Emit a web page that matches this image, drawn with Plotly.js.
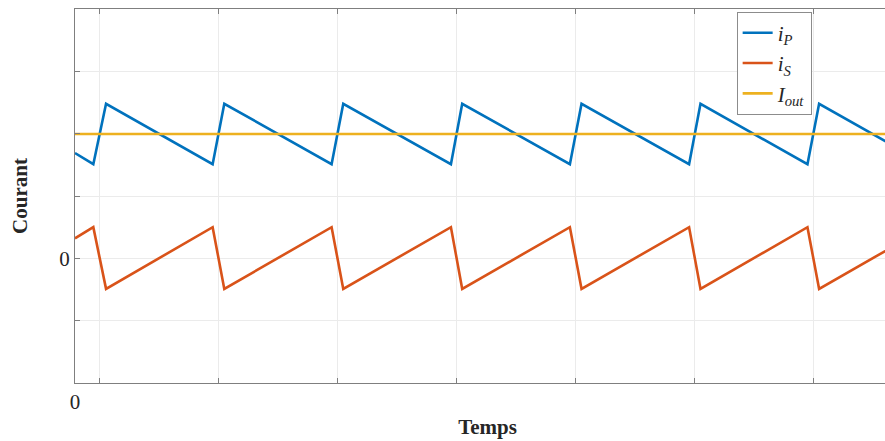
<!DOCTYPE html>
<html>
<head>
<meta charset="utf-8">
<script src="https://cdn.plot.ly/plotly-3.0.1.min.js"></script>
<style>
  html, body { margin: 0; padding: 0; overflow: hidden; background: #ffffff; width: 885px; height: 441px; }
  #chart { width: 900px; height: 441px; }
</style>
</head>
<body>
<div id="chart"></div>
<script>
// Vertex times (in switching periods)
const tVertices = [0, 0.154, 0.261, 1.157, 1.255, 2.157, 2.255, 3.160, 3.255, 4.160, 4.258, 5.162, 5.258, 6.157, 6.255, 6.85];
// Primary current i_P
const iP = [1.69, 1.51, 2.48, 1.51, 2.48, 1.51, 2.48, 1.51, 2.48, 1.51, 2.48, 1.51, 2.48, 1.51, 2.48, 1.84];
// Secondary current i_S
const iS = [0.32, 0.50, -0.49, 0.50, -0.49, 0.50, -0.49, 0.50, -0.49, 0.50, -0.49, 0.50, -0.49, 0.50, -0.49, 0.16];
// Output current I_out
const tOut = [0, 6.85];
const iOut = [1.995, 1.995];

// Tick positions / labels
const xLabelVals = [0];
const xLabelText = ["0"];
const xMinorVals = [0.21, 1.21, 2.21, 3.21, 4.21, 5.21, 6.21];
const yLabelVals = [0];
const yLabelText = ["0"];
const yMinorVals = [-2, -1, 1, 2, 3, 4];

const seriesNames = ["<i>i</i><sub><i>P</i></sub>", "<i>i</i><sub><i>S</i></sub>", "<i>I</i><sub><i>out</i></sub>"];
const seriesColors = ["#0072BD", "#D95319", "#EDB120"];

const traces = [
  { x: tVertices, y: iP, mode: "lines", name: seriesNames[0], line: { color: seriesColors[0], width: 2.6 } },
  { x: tVertices, y: iS, mode: "lines", name: seriesNames[1], line: { color: seriesColors[1], width: 2.6 } },
  { x: tOut, y: iOut, mode: "lines", name: seriesNames[2], line: { color: seriesColors[2], width: 2.6 } }
];

const txtFont = { family: "Liberation Serif, Times New Roman, serif", size: 21, color: "#262626" };

function axisBase(range, labelVals, labelText, minorVals, title, standoff) {
  return {
    range: range,
    tickmode: "array", tickvals: labelVals, ticktext: labelText,
    ticks: "inside", ticklen: 5, tickwidth: 1, tickcolor: "#7f7f7f",
    showline: true, linecolor: "#7f7f7f", linewidth: 1, mirror: "ticks",
    showgrid: true, gridcolor: "#ebebeb", gridwidth: 1,
    minor: {
      tickmode: "array", tickvals: minorVals,
      ticks: "inside", ticklen: 5, tickwidth: 1, tickcolor: "#7f7f7f",
      showgrid: true, gridcolor: "#ebebeb", gridwidth: 1
    },
    zeroline: false, automargin: false,
    tickfont: txtFont,
    title: { text: title, font: txtFont, standoff: standoff }
  };
}

const layout = {
  width: 900,
  height: 441,
  margin: { l: 75, r: 0, t: 9, b: 58, pad: 0 },
  paper_bgcolor: "#ffffff",
  plot_bgcolor: "#ffffff",
  font: txtFont,
  showlegend: true,
  legend: {
    x: 0.802, y: 0.993, xanchor: "left", yanchor: "top",
    bgcolor: "#ffffff", bordercolor: "#8c8c8c", borderwidth: 1,
    font: txtFont,
    tracegroupgap: 0
  },
  xaxis: axisBase([0, 6.935], xLabelVals, xLabelText, xMinorVals, "<b>Temps</b>", 6),
  yaxis: axisBase([-2, 4], yLabelVals, yLabelText, yMinorVals, "<b>Courant</b>", 25)
};

Plotly.newPlot("chart", traces, layout, { displayModeBar: false, staticPlot: true });
</script>
</body>
</html>
